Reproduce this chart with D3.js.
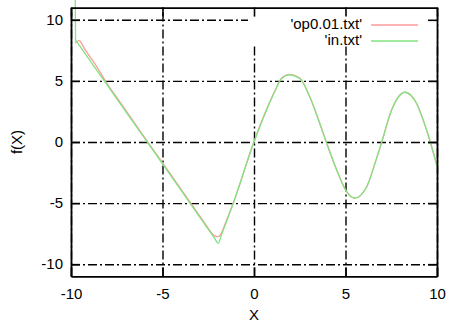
<!DOCTYPE html>
<html>
<head>
<meta charset="utf-8">
<script src="https://cdn.jsdelivr.net/npm/d3@7"></script>
<style>
body { margin: 0; background: #fff; }
text { font-family: "Liberation Sans", Arial, sans-serif; }
</style>
</head>
<body>
<script>
// values
var xTicks = [-10, -5, 0, 5, 10];
var yTicks = [-10, -5, 0, 5, 10];
var xTickLabels = ["-10", "-5", "0", "5", "10"];
var yTickLabels = ["-10", "-5", "0", "5", "10"];
var seriesNames = ["'op0.01.txt'", "'in.txt'"];

// 'op0.01.txt' (red)
var opX = [-9.78, -9.56, -9.25, -9.0, -8.74, -8.4, -8.1, -7.5, -5.8, -4.6, -3.6, -2.6, -2.4, -2.2, -2.05, -1.9, -1.75, -1.5, -1.13, 0, 0.78, 1.15, 1.51, 1.95, 2.5, 3.1, 3.6, 3.95, 4.52, 5.06, 5.5, 6.16, 6.61, 6.98, 7.52, 8.25, 8.88, 9.43, 10];
var opY = [8.1, 8.3, 7.6, 7.05, 6.5, 5.7, 4.95, 3.65, 0, -2.55, -4.7, -6.85, -7.3, -7.62, -7.75, -7.7, -7.35, -6.4, -5.0, 0.05, 3.0, 4.22, 5.23, 5.53, 5.24, 3.52, 1.5, 0, -2.3, -4.07, -4.6, -3.66, -1.75, 0, 2.62, 4.07, 3.17, 0.98, -1.95];

// 'in.txt' (green)
var inX = [-9.77, -9.75, -9.68, -8.2, -5.8, -3.6, -2.15, -1.95, -1.8, -1.13, 0, 0.78, 1.15, 1.51, 1.95, 2.5, 3.1, 3.6, 3.95, 4.52, 5.06, 5.5, 6.16, 6.61, 6.98, 7.52, 8.25, 8.88, 9.43, 10];
var inY = [11.9, 8.35, 8.2, 5.04, -0.08, -4.78, -7.88, -8.3, -7.7, -5.0, 0, 2.95, 4.18, 5.2, 5.5, 5.2, 3.5, 1.5, 0, -2.3, -4.07, -4.6, -3.66, -1.75, 0, 2.62, 4.07, 3.17, 0.98, -1.95];

var seriesColors = ["#ff9a9a", "#80e480"];

var plotLeft = 71, plotRight = 437, plotTop = 7.6, plotBottom = 276.4;

var x = d3.scaleLinear().domain([-10, 10]).range([plotLeft, plotRight]);
var y = d3.scaleLinear().domain([-11, 11]).range([plotBottom, plotTop]);

var svg = d3.select("body").append("svg")
	.attr("width", 449)
	.attr("height", 325)
	.attr("xmlns", "http://www.w3.org/2000/svg");

svg.append("rect").attr("width", 449).attr("height", 325).attr("fill", "#fff");

// dash-dot grid
var gridX = svg.append("g")
	.attr("transform", "translate(0," + plotBottom + ")")
	.call(d3.axisBottom(x).tickValues(xTicks).tickSize(-(plotBottom - plotTop)).tickFormat("").tickSizeOuter(0));
var gridY = svg.append("g")
	.attr("transform", "translate(" + plotLeft + ",0)")
	.call(d3.axisLeft(y).tickValues(yTicks).tickSize(-(plotRight - plotLeft)).tickFormat("").tickSizeOuter(0));
[gridX, gridY].forEach(function(g){
	g.select(".domain").remove();
	g.selectAll("line")
		.attr("stroke", "#000")
		.attr("stroke-width", 1.4)
		.attr("stroke-dasharray", "9,3,2,3");
});

// curves
var line = d3.line()
	.x(function(d){ return x(d[0]); })
	.y(function(d){ return y(d[1]); })
	.curve(d3.curveMonotoneX);

var series = [d3.zip(opX, opY), d3.zip(inX, inY)];
for(var i = 0; i < series.length; i++){
	svg.append("path")
		.attr("d", line(series[i]))
		.attr("fill", "none")
		.attr("stroke", seriesColors[i])
		.attr("stroke-width", 1.3);
}

// key
svg.append("rect")
	.attr("x", 248).attr("y", plotTop)
	.attr("width", plotRight - 248).attr("height", 46 - plotTop)
	.attr("fill", "#fff");
var keyY = [24, 40];
for(var i = 0; i < seriesNames.length; i++){
	svg.append("text")
		.attr("x", 362)
		.attr("y", keyY[i])
		.attr("dy", ".35em")
		.attr("text-anchor", "end")
		.attr("font-size", 15)
		.text(seriesNames[i]);
	svg.append("line")
		.attr("x1", 371).attr("x2", 418)
		.attr("y1", keyY[i] + 1).attr("y2", keyY[i] + 1)
		.attr("stroke", seriesColors[i])
		.attr("stroke-width", 1.6);
}

// axes: inward ticks on all four sides
var axB = svg.append("g").attr("transform", "translate(0," + plotBottom + ")")
	.call(d3.axisBottom(x).tickValues(xTicks).tickSize(-9).tickSizeOuter(0).tickPadding(12)
		.tickFormat(function(d, i){ return xTickLabels[i]; }));
var axL = svg.append("g").attr("transform", "translate(" + plotLeft + ",0)")
	.call(d3.axisLeft(y).tickValues(yTicks).tickSize(-9).tickSizeOuter(0).tickPadding(8)
		.tickFormat(function(d, i){ return yTickLabels[i]; }));
var axT = svg.append("g").attr("transform", "translate(0," + plotTop + ")")
	.call(d3.axisTop(x).tickValues(xTicks).tickSize(-9).tickSizeOuter(0).tickFormat(""));
var axR = svg.append("g").attr("transform", "translate(" + plotRight + ",0)")
	.call(d3.axisRight(y).tickValues(yTicks).tickSize(-9).tickSizeOuter(0).tickFormat(""));
[axB, axL, axT, axR].forEach(function(g){
	g.select(".domain").attr("stroke", "#000").attr("stroke-width", 1.8);
	g.selectAll("line").attr("stroke", "#000").attr("stroke-width", 1.6);
	g.selectAll("text")
		.attr("font-size", 15)
		.attr("font-family", "Liberation Sans, Arial, sans-serif")
		.attr("fill", "#000");
});

// axis titles
svg.append("text")
	.attr("x", 254).attr("y", 315)
	.attr("dy", ".35em")
	.attr("text-anchor", "middle")
	.attr("font-size", 15)
	.text("X");
svg.append("text")
	.attr("transform", "translate(17,142) rotate(-90)")
	.attr("dy", ".35em")
	.attr("text-anchor", "middle")
	.attr("font-size", 15)
	.text("f(X)");
</script>
</body>
</html>
